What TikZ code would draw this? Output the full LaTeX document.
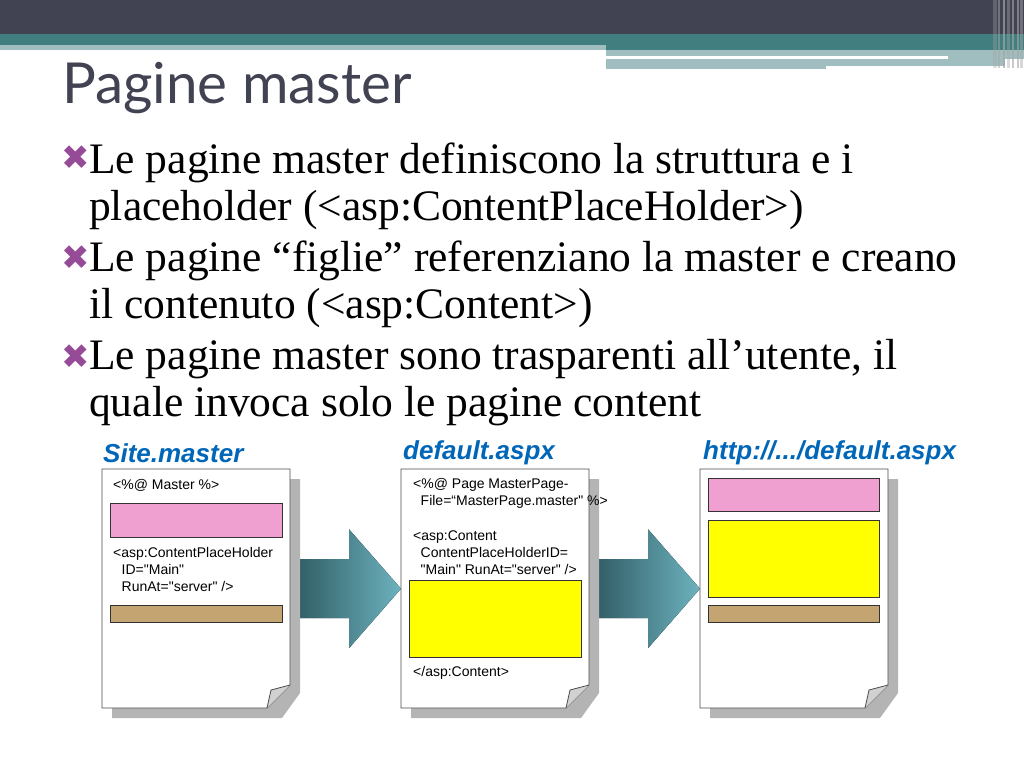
\documentclass[tikz,border=0pt]{standalone}
\usepackage{fontspec}
\setmainfont{Liberation Serif}
\newfontfamily\titlefont{Lato}
\newfontfamily\codefont{Liberation Sans}
\newfontfamily\symbolfont{DejaVu Sans}
\usetikzlibrary{calc, positioning}

\definecolor{slate}{RGB}{65,66,82}
\definecolor{tealband}{RGB}{64,126,128}
\definecolor{teallight}{RGB}{160,190,192}
\definecolor{bulletpurple}{RGB}{150,75,150}
\definecolor{labelblue}{RGB}{0,102,184}
\definecolor{boxpink}{RGB}{240,160,208}
\definecolor{boxyellow}{RGB}{255,255,0}
\definecolor{boxtan}{RGB}{196,164,112}
\definecolor{shadowgray}{RGB}{180,180,180}
\definecolor{arrowdark}{RGB}{46,88,96}
\definecolor{arrowlight}{RGB}{108,178,190}

\tikzset{
  bullettext/.style={anchor=north west, inner sep=0pt, align=left, font=\fontsize{43.5}{47}\selectfont},
  bulletmark/.style={anchor=west, inner sep=0pt, text=bulletpurple, font=\symbolfont\fontsize{34}{34}\selectfont},
  doclabel/.style={anchor=west, inner sep=0pt, text=labelblue, font=\codefont\bfseries\itshape\fontsize{26}{26}\selectfont},
  codetext/.style={anchor=north west, inner sep=0pt, align=left, font=\codefont\fontsize{14}{17}\selectfont},
  pagebox/.style={draw=none, inner sep=0pt, minimum width=188pt, minimum height=239pt},
  region/.style={draw=black!80, line width=0.8pt},
}

\begin{document}
\begin{tikzpicture}[x=1pt, y=-1pt]
\useasboundingbox (0,0) rectangle (1024,768);

% title bar
\fill[slate] (0,0) rectangle (1024,34);
\fill[tealband] (0,34) rectangle (1024,45);
\fill[teallight] (0,45) rectangle (606,50);
\fill[tealband] (606,45) rectangle (1024,50);
\fill[teallight] (606,50) rectangle (1024,56);
\fill[white] (606,56) rectangle (948,59);
\fill[teallight] (948,56) rectangle (1024,59);
\fill[teallight] (606,59) rectangle (1005,65.5);
\fill[teallight] (606,65.5) rectangle (826,69);
\foreach \x/\w/\o in {993/4/0.35, 998/2/0.5, 1003/2/0.7, 1007/3/0.4, 1012/1.5/0.6, 1017/1.5/0.6, 1020/3/0.45} {
\fill[gray!70, opacity=\o] (\x,0) rectangle (\x+\w,68);
}

\node[anchor=base west, inner sep=0pt, text=slate, font=\titlefont\fontsize{56.5}{56}\selectfont] (title) at (62,103) {Pagine master};

% bullets
\foreach \n/\y in {1/158, 2/258, 3/357} {
\node[bulletmark] (mark\n) at (61,\y) {✖};
}
\node[bullettext] (item1) at (89,143) {Le pagine master definiscono la struttura e i\\placeholder (<asp:ContentPlaceHolder>)};
\node[bullettext] (item2) at (89,241) {Le pagine “figlie” referenziano la master e creano\\il contenuto (<asp:Content>)};
\node[bullettext] (item3) at (89,339) {Le pagine master sono trasparenti all’utente, il\\quale invoca solo le pagine content};

% pages
\foreach \name/\L in {master/102, default/401, result/700} {
\node[pagebox, anchor=north west] (\name) at (\L,469) {};
}

% arrows between pages
\foreach \from/\to in {master/default, default/result} {
\fill[left color=arrowdark, right color=arrowlight]
  ($(\from.east)+(0,-29.5)$) -- ($(\to.west)+(-52,-29.5)$) -- ($(\to.west)+(-52,-59.5)$)
  -- (\to.west) -- ($(\to.west)+(-52,59.5)$) -- ($(\to.west)+(-52,29.5)$)
  -- ($(\from.east)+(0,29.5)$) -- cycle;
}

\foreach \L in {102, 401, 700} {
\pgfmathsetmacro\R{\L+188}
\fill[shadowgray] (\L+10,479) -- (\R+10,479) -- (\R+10,693) -- (\R-8,718) -- (\L+10,718) -- cycle;
\filldraw[fill=white, draw=black!70, line width=0.8pt] (\L,469) -- (\R,469) -- (\R,685) -- (\R-23,708) -- (\L,708) -- cycle;
\filldraw[fill=black!18, draw=black!70, line width=0.8pt] (\R,685) -- (\R-19,690) -- (\R-23,708);
}

\node[doclabel] (masterlabel) at (103,453) {Site.master};
\node[doclabel] (defaultlabel) at (403,453) {default.aspx};
\node[doclabel] (resultlabel) at (703,453) {http://.../default.aspx};

% Site.master
\node[codetext] (masterhead) at (113,479) {<\%@ Master \%>};
\fill[boxpink, region] (110.5,503.5) rectangle (282,537.5);
\node[codetext] (holder) at (113,547) {<asp:ContentPlaceHolder\\\hspace*{8.5pt}ID="Main"\\\hspace*{8.5pt}RunAt="server" />};
\fill[boxtan, region] (110.5,605.5) rectangle (282,622.5);

% default.aspx
\node[codetext] (pagehead) at (413,478) {<\%@ Page MasterPage-\\\hspace*{7.5pt}File=“MasterPage.master" \%>};
\node[codetext] (content) at (413,531) {<asp:Content\\\hspace*{7.5pt}ContentPlaceHolderID=\\\hspace*{7.5pt}"Main" RunAt="server" />};
\fill[boxyellow, region] (409,580) rectangle (581,657);
\node[codetext] (contentend) at (413,666) {</asp:Content>};

% result page
\fill[boxpink, region] (708,478) rectangle (879.5,511.5);
\fill[boxyellow, region] (708,520) rectangle (879.5,597);
\fill[boxtan, region] (708,605.5) rectangle (879.5,622.5);
\end{tikzpicture}
\end{document}
